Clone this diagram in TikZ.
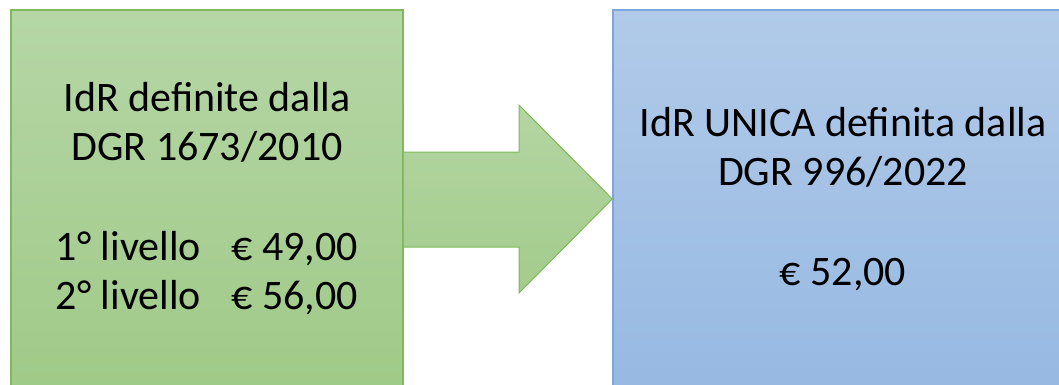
\documentclass[tikz,border=0pt]{standalone}
\usepackage{fontspec}
\setmainfont{Carlito}
\definecolor{gtop}{RGB}{182,214,166}
\definecolor{gbot}{RGB}{160,202,136}
\definecolor{gline}{RGB}{128,184,92}
\definecolor{btop}{RGB}{177,202,233}
\definecolor{bbot}{RGB}{151,185,226}
\definecolor{bline}{RGB}{126,166,220}
\definecolor{atop}{RGB}{180,213,162}
\definecolor{abot}{RGB}{163,204,140}
\begin{document}
\begin{tikzpicture}[x=1pt,y=-1pt,
  box/.style={rectangle, draw, line width=1.5pt, inner sep=0pt, align=center,
    font=\fontsize{42}{49}\selectfont}]
\useasboundingbox (0,0) rectangle (1059,384);
\clip (0,0) rectangle (1059,384);
\node[box, draw=gline, top color=gtop, bottom color=gbot,
  minimum width=392, minimum height=378] (g) at (207,199)
  {IdR definite dalla\\DGR 1673/2010\\[51pt]1° livello\hspace{21pt} € 49,00\\2° livello\hspace{21pt} € 56,00};
\node[box, draw=bline, top color=btop, bottom color=bbot,
  minimum width=460, minimum height=378] (b) at (843,199)
  {IdR UNICA definita dalla\\DGR 996/2022\\[51pt]€ 52,00};
\coordinate (s1) at (g.east |- 0,152);
\coordinate (s2) at (g.east |- 0,247);
\coordinate (tip) at (b.west |- 0,199);
\shade[top color=atop, bottom color=abot]
  (s1) -- (519,152) -- (519,105) -- (tip) -- (519,293) -- (519,247) -- (s2) -- cycle;
\draw[gline, line width=1pt, line join=miter]
  (s1) -- (519,152) -- (519,105) -- (tip) -- (519,293) -- (519,247) -- (s2);
\end{tikzpicture}
\end{document}
